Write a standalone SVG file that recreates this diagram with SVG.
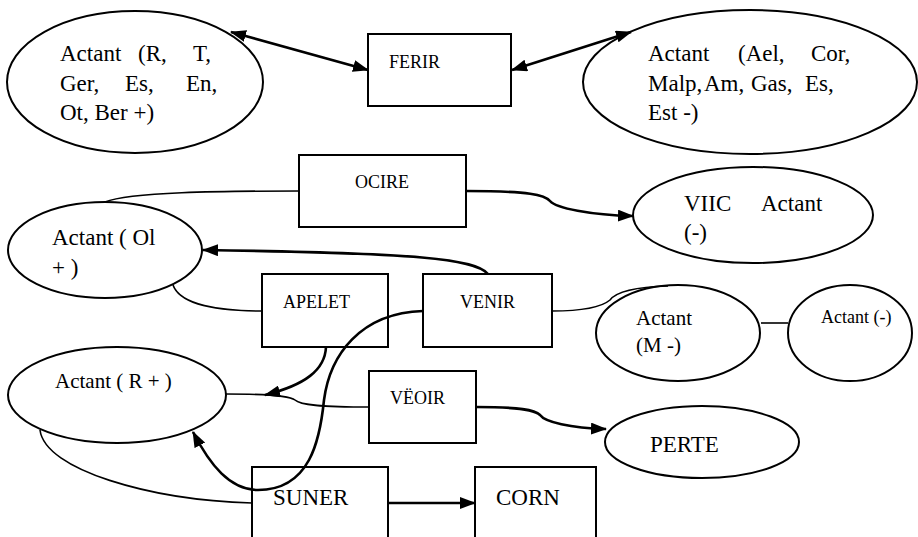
<svg xmlns="http://www.w3.org/2000/svg" width="918" height="537" viewBox="0 0 918 537">
  <defs>
    <marker id="head" viewBox="0 0 16 12" markerWidth="16" markerHeight="12" markerUnits="userSpaceOnUse" refX="15" refY="6" orient="auto-start-reverse">
      <path d="M0,0 L16,6 L0,12 z" fill="#000"/>
    </marker>
    <style>
      .node { fill: #fff; stroke: #000; stroke-width: 2; }
      .thick { fill: none; stroke: #000; stroke-width: 2.6; }
      .thin { fill: none; stroke: #000; stroke-width: 1.6; }
      .arrow { marker-end: url(#head); }
      .both { marker-start: url(#head); marker-end: url(#head); }
    </style>
  </defs>
  <rect width="918" height="537" fill="#fff"/>

  <!-- actants and verbs -->
  <g id="actant-r-t-ger">
    <ellipse class="node" cx="135" cy="82" rx="128" ry="71"/>
    <text style="font-family: 'Liberation Serif', serif; font-size: 23px"><tspan x="60" y="61">Actant</tspan><tspan x="138" y="61">(R,</tspan><tspan x="193" y="61">T,</tspan><tspan x="60" y="91">Ger,</tspan><tspan x="125" y="91">Es,</tspan><tspan x="186" y="91">En,</tspan><tspan x="60" y="120">Ot, Ber +)</tspan></text>
  </g>
  <g id="ferir">
    <rect class="node" x="368" y="34" width="143" height="72"/>
    <text style="font-family: 'Liberation Serif', serif; font-size: 18px" x="389" y="68">FERIR</text>
  </g>
  <g id="actant-ael-cor">
    <ellipse class="node" cx="750" cy="82" rx="167" ry="72"/>
    <text style="font-family: 'Liberation Serif', serif; font-size: 23px"><tspan x="648" y="61">Actant</tspan><tspan x="738" y="61">(Ael,</tspan><tspan x="811" y="61">Cor,</tspan><tspan x="648" y="91">Malp,</tspan><tspan x="704" y="91">Am,</tspan><tspan x="751" y="91">Gas,</tspan><tspan x="805" y="91">Es,</tspan><tspan x="648" y="120">Est -)</tspan></text>
  </g>
  <g id="ocire">
    <rect class="node" x="299" y="155" width="167" height="72"/>
    <text style="font-family: 'Liberation Serif', serif; font-size: 18px" x="355" y="188">OCIRE</text>
  </g>
  <g id="viic-actant">
    <ellipse class="node" cx="753" cy="215" rx="120" ry="48"/>
    <text style="font-family: 'Liberation Serif', serif; font-size: 23px"><tspan x="684" y="211">VIIC</tspan><tspan x="761" y="211">Actant</tspan><tspan x="684" y="240">(-)</tspan></text>
  </g>
  <g id="actant-ol">
    <ellipse class="node" cx="105" cy="250" rx="97" ry="48"/>
    <text style="font-family: 'Liberation Serif', serif; font-size: 23px"><tspan x="52" y="245">Actant ( Ol</tspan><tspan x="52" y="275">+ )</tspan></text>
  </g>
  <g id="apelet">
    <rect class="node" x="262" y="274" width="126" height="73"/>
    <text style="font-family: 'Liberation Serif', serif; font-size: 18px" x="283" y="308">APELET</text>
  </g>
  <g id="venir">
    <rect class="node" x="423" y="274" width="129" height="73"/>
    <text style="font-family: 'Liberation Serif', serif; font-size: 18px" x="460" y="308">VENIR</text>
  </g>
  <g id="actant-m">
    <ellipse class="node" cx="678" cy="333" rx="82" ry="48"/>
    <text style="font-family: 'Liberation Serif', serif; font-size: 21px"><tspan x="636" y="325">Actant</tspan><tspan x="636" y="352">(M -)</tspan></text>
  </g>
  <g id="actant-minus">
    <ellipse class="node" cx="850" cy="333" rx="62" ry="48"/>
    <text style="font-family: 'Liberation Serif', serif; font-size: 18px" x="821" y="323">Actant (-)</text>
  </g>
  <g id="actant-r">
    <ellipse class="node" cx="117" cy="395" rx="109" ry="48"/>
    <text style="font-family: 'Liberation Serif', serif; font-size: 21px" x="55" y="388">Actant ( R + )</text>
  </g>
  <g id="veoir">
    <rect class="node" x="369" y="371" width="107" height="72"/>
    <text style="font-family: 'Liberation Serif', serif; font-size: 18px" x="390" y="404">VËOIR</text>
  </g>
  <g id="perte">
    <ellipse class="node" cx="702" cy="442" rx="97" ry="36"/>
    <text style="font-family: 'Liberation Serif', serif; font-size: 23px" x="650" y="452">PERTE</text>
  </g>
  <g id="suner">
    <rect class="node" x="252" y="467" width="136" height="100"/>
    <text style="font-family: 'Liberation Serif', serif; font-size: 23px" x="273" y="505">SUNER</text>
  </g>
  <g id="corn">
    <rect class="node" x="475" y="467" width="121" height="100"/>
    <text style="font-family: 'Liberation Serif', serif; font-size: 23px" x="496" y="505">CORN</text>
  </g>

  <!-- connectors -->
  <g id="connectors">
    <path class="thick both" d="M231,32 L368,70"/>
    <path class="thick both" d="M512,70 L631,32"/>
    <path class="thin" d="M299,191 C220,191 130,192 105,202"/>
    <path class="thick arrow" d="M466,191 C530,191 545,195 550,201 C556,208 590,215 633,216"/>
    <path class="thick arrow" d="M488,274 C475,259 420,253 203,250"/>
    <path class="thin" d="M173,285 C180,305 220,311 262,311"/>
    <path class="thin" d="M552,311 C585,311 603,306 610,300 C616,292 635,287 668,286"/>
    <path class="thick arrow" d="M423,311 C360,313 330,355 324,400 C320,440 310,490 258,490 C230,490 210,465 193,432"/>
    <path class="thick arrow" d="M326,347 C325,370 305,385 265,395"/>
    <path class="thin" d="M369,407 C320,407 300,405 295,400 C290,396 270,394 226,394"/>
    <path class="thick arrow" d="M476,407 C520,407 535,410 540,415 C545,422 570,428 606,429"/>
    <path class="thin" d="M40,430 C45,470 150,500 252,503"/>
    <path class="thin" d="M761,323 L788,323"/>
    <path class="thick arrow" d="M388,503 L475,503"/>
  </g>
</svg>
